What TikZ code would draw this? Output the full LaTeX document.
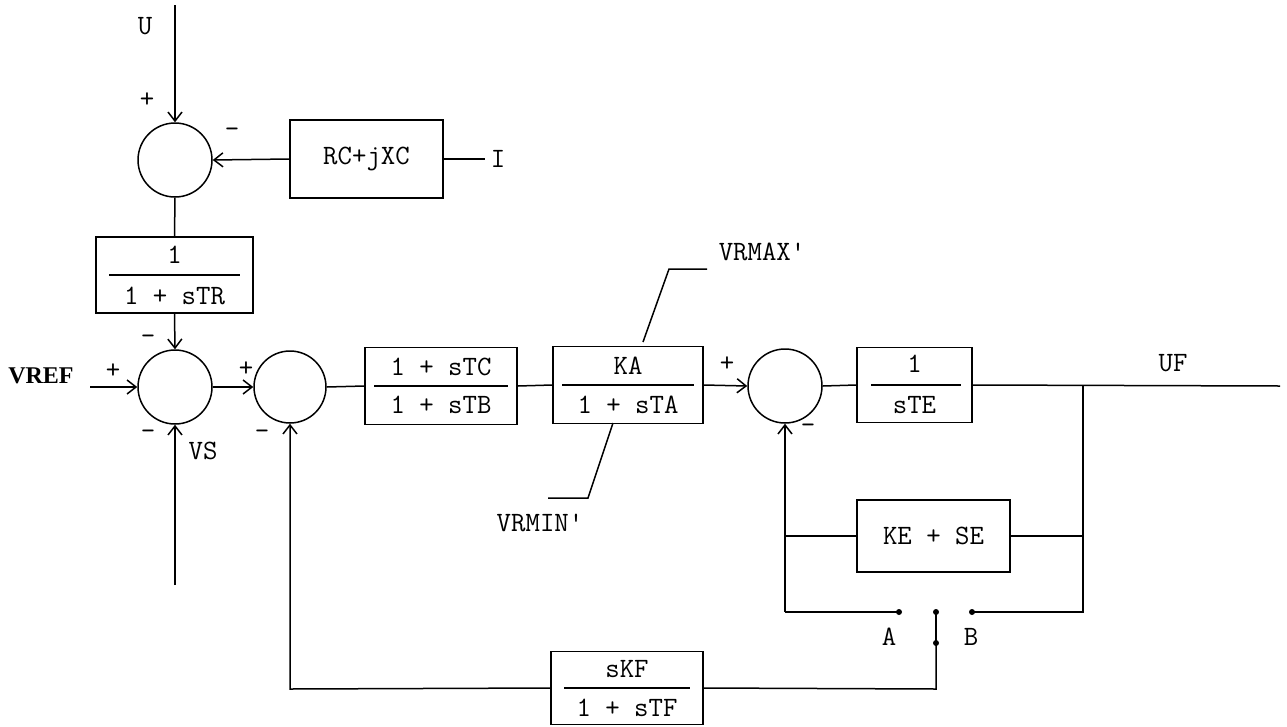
\documentclass[tikz,border=0pt]{standalone}
\usepackage{fontspec}
\newfontfamily\vreffont{Liberation Serif}
\usetikzlibrary{arrows.meta,calc}
\begin{document}
\begin{tikzpicture}[x=1pt,y=-1pt,line width=1.5pt,
  every node/.style={font=\ttfamily\fontsize{28}{32}\selectfont, inner sep=0pt},
  blk/.style={draw, rectangle, line width=1.5pt},
  sumc/.style={draw, circle, minimum size=74pt, line width=1.5pt},
  arr/.style={-{Straight Barb[length=9pt,width=14pt,line width=1.5pt]}},
  jdot/.style={circle, fill, minimum size=6pt},
  vref/.style={font=\vreffont\bfseries\fontsize{24}{28}\selectfont}]
\useasboundingbox (0,0) rectangle (1287,726);

% summing junctions
\node[sumc] (s1) at (175,160) {};
\node[sumc] (s2) at (175,387) {};
\node[sumc, minimum size=72pt] (s3) at (290,387) {};
\node[sumc] (s4) at (785,386) {};

% blocks
\node[blk, minimum width=153pt, minimum height=78pt] (rc) at (366.5,159) {RC+jXC};
\node[blk, minimum width=157pt, minimum height=76pt] (tr) at (174.5,275) {};
\node (trn) at (174.5,255) {1};
\node (trd) at (174.5,296) {1 + sTR};
\draw ($(tr.west)+(14,0)$) -- ($(tr.east)+(-14,0)$);

\node[blk, minimum width=152pt, minimum height=77pt] (tc) at (441,386) {};
\node (tcn) at (441,367) {1 + sTC};
\node (tcd) at (441,405) {1 + sTB};
\draw ($(tc.west)+(10,0)$) -- ($(tc.east)+(-10,0)$);

\node[blk, minimum width=150pt, minimum height=77pt] (ka) at (628,385) {};
\node (kan) at (628,366) {KA};
\node (kad) at (628,405) {1 + sTA};
\draw ($(ka.west)+(10,0)$) -- ($(ka.east)+(-10,0)$);

\node[blk, minimum width=115pt, minimum height=75pt] (te) at (914.5,385) {};
\node (ten) at (914.5,364) {1};
\node (ted) at (914.5,405) {sTE};
\draw ($(te.west)+(15,0)$) -- ($(te.east)+(-12,0)$);

\node[blk, minimum width=153pt, minimum height=72pt] (kese) at (933.5,536) {KE + SE};

\node[blk, minimum width=152pt, minimum height=73pt] (kf) at (627,688) {};
\node (kfn) at (627,669) {sKF};
\node (kfd) at (627,708) {1 + sTF};
\draw ($(kf.west)+(14,0)$) -- ($(kf.east)+(-14,0)$);

% coordinates
\coordinate (uin) at (175,5);
\coordinate (iin) at (485,159);
\coordinate (vin) at (90,387);
\coordinate (vsin) at (175,585);
\coordinate (ufout) at (1280,386);
\coordinate (jr) at (1083,386);
\coordinate (jrk) at (1083,536);
\coordinate (jrb) at (1083,612);
\coordinate (jl) at (785,536);
\coordinate (jla) at (785,612);
\coordinate (fbl) at (290,689);
\coordinate (swb) at (936,689);
\node[jdot] (da) at (899,612) {};
\node[jdot] (db) at (972,612) {};
\node[jdot] (dt) at (936,612) {};
\node[jdot] (dbot) at (936,643) {};

% connectors
\draw[arr] (uin) -- (s1.north);
\draw[arr] (rc.west) -- (s1.east);
\draw (rc.east) -- (iin);
\draw (s1.south) -- (tr.north);
\draw[arr] (tr.south) -- (s2.north);
\draw[arr] (vin) -- (s2.west);
\draw[arr] (vsin) -- (s2.south);
\draw[arr] (s2.east) -- (s3.west);
\draw (s3.east) -- (tc.west);
\draw (tc.east) -- (ka.west);
\draw[arr] (ka.east) -- (s4.west);
\draw (s4.east) -- (te.west);
\draw (te.east) -- (ufout);
\draw (jr) -- (jrb) -- (db.center);
\draw (kese.east) -- (jrk);
\draw (kese.west) -- (jl);
\draw[arr] (jla) -- (s4.south);
\draw (jla) -- (da.center);
\draw[line width=1.2pt] (dt.center) -- (dbot.center);
\draw (dbot.center) -- (swb) -- (kf.east);
\draw[arr] (kf.west) -- (fbl) -- (s3.south);

% limiter lines
\coordinate (mx1) at (643,342);
\coordinate (mx2) at (669,269);
\coordinate (mx3) at (707,269);
\draw (mx1) -- (mx2) -- (mx3);
\coordinate (mn1) at (613,423);
\coordinate (mn2) at (588,498);
\coordinate (mn3) at (548,498);
\draw (mn1) -- (mn2) -- (mn3);

% labels
\node (lU) at (145,26) {U};
\node (lI) at (498,159) {I};
\node[vref] (lvref) at (41,376) {VREF};
\node (lvs) at (203,451) {VS};
\node (luf) at (1173,363) {UF};
\node (lmax) at (762,252) {VRMAX'};
\node (lmin) at (540,523) {VRMIN'};
\node (lA) at (889,637) {A};
\node (lB) at (971,637) {B};
\node (p1) at (147,100) {+};
\node (m1) at (232,133) {-};
\node (p2) at (113,371) {+};
\node (m2a) at (148,340) {-};
\node (m2b) at (148,435) {-};
\node (p3) at (246,369) {+};
\node (m3) at (262,435) {-};
\node (p4) at (727,364) {+};
\node (m4) at (808,429) {-};
\end{tikzpicture}
\end{document}
